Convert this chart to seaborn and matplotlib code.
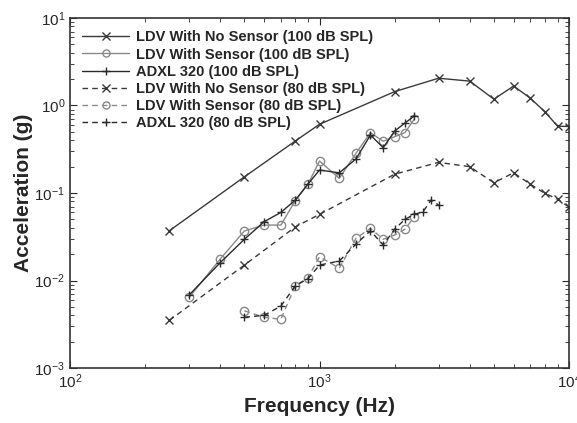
import numpy as np
import pandas as pd
import matplotlib
matplotlib.use("Agg")
from matplotlib import pyplot as plt
import seaborn as sns

# frequencies (Hz)
freq_ldv = [250, 500, 800, 1000, 2000, 3000, 4000, 5000, 6000, 7000, 8000, 9000, 10000]
freq_sens_100 = [300, 400, 500, 600, 700, 800, 900, 1000, 1200, 1400, 1600, 1800, 2000, 2200, 2400]
freq_sens_80 = [500, 600, 700, 800, 900, 1000, 1200, 1400, 1600, 1800, 2000, 2200, 2400]
freq_adxl_80 = [500, 600, 700, 800, 900, 1000, 1200, 1400, 1600, 1800, 2000, 2200, 2400, 2600, 2800, 3000]

# acceleration (g)
ldv_nosens_100 = [0.037, 0.153, 0.393, 0.61, 1.44, 2.05, 1.9, 1.18, 1.67, 1.21, 0.85, 0.58, 0.575]
ldv_sens_100 = [0.0064, 0.0176, 0.0368, 0.043, 0.043, 0.082, 0.127, 0.232, 0.147, 0.284, 0.49, 0.39, 0.44, 0.49, 0.70]
adxl_100 = [0.0068, 0.016, 0.0296, 0.047, 0.060, 0.083, 0.127, 0.183, 0.17, 0.245, 0.46, 0.33, 0.51, 0.63, 0.76]
ldv_nosens_80 = [0.0035, 0.015, 0.041, 0.057, 0.164, 0.224, 0.20, 0.131, 0.17, 0.126, 0.099, 0.085, 0.069]
ldv_sens_80 = [0.0045, 0.0038, 0.0036, 0.0087, 0.0108, 0.0187, 0.0138, 0.0303, 0.0395, 0.0296, 0.0331, 0.0385, 0.0536]
adxl_80 = [0.0038, 0.0040, 0.0051, 0.0087, 0.0105, 0.015, 0.0167, 0.026, 0.037, 0.0255, 0.0385, 0.050, 0.057, 0.061, 0.083, 0.073]

dash = (0, (4, 3))
series = [
    ('LDV With No Sensor (100 dB SPL)', freq_ldv, ldv_nosens_100, '#3a3a3a', 'x', '-'),
    ('LDV With Sensor (100 dB SPL)', freq_sens_100, ldv_sens_100, '#8a8a8a', 'o', '-'),
    ('ADXL 320 (100 dB SPL)', freq_sens_100, adxl_100, '#2a2a2a', '+', '-'),
    ('LDV With No Sensor (80 dB SPL)', freq_ldv, ldv_nosens_80, '#3a3a3a', 'x', dash),
    ('LDV With Sensor (80 dB SPL)', freq_sens_80, ldv_sens_80, '#8a8a8a', 'o', dash),
    ('ADXL 320 (80 dB SPL)', freq_adxl_80, adxl_80, '#2a2a2a', '+', dash),
]

sns.set_style("ticks")
plt.rcParams['font.family'] = ['Liberation Sans', 'DejaVu Sans']

fig = plt.figure(figsize=(5.77, 4.23), dpi=100)
ax = fig.add_axes([70/577, 1-368/423, 499/577, 350/423])

for name, f, a, col, mk, ls in series:
    df = pd.DataFrame({'Frequency': f, 'Acceleration': a})
    sns.lineplot(data=df, x='Frequency', y='Acceleration', ax=ax, color=col,
                 marker=mk, linestyle=ls, linewidth=1.0, markersize=6,
                 markerfacecolor='none', markeredgecolor=col, markeredgewidth=1.0,
                 sort=False, estimator=None, label=name)

ax.set_xscale('log')
ax.set_yscale('log')
ax.set_xlim(100, 10000)
ax.set_ylim(1e-3, 10)
ax.tick_params(which='both', direction='in', top=True, right=True, labelsize=11)
ax.tick_params(which='major', length=5)
ax.tick_params(which='minor', length=3)
for s in ax.spines.values():
    s.set_linewidth(1.2)
    s.set_color('#333333')

ax.set_xlabel('Frequency (Hz)', fontsize=15, fontweight='bold')
ax.set_ylabel('Acceleration (g)', fontsize=15, fontweight='bold', labelpad=1)

leg = ax.legend(loc='upper left', frameon=False, fontsize=10.5, handlelength=3.2,
                borderaxespad=0.45, labelspacing=0.22, handletextpad=0.5,
                markerscale=0.85)
for t in leg.get_texts():
    t.set_fontweight('bold')

plt.savefig('out.png', dpi=100)
